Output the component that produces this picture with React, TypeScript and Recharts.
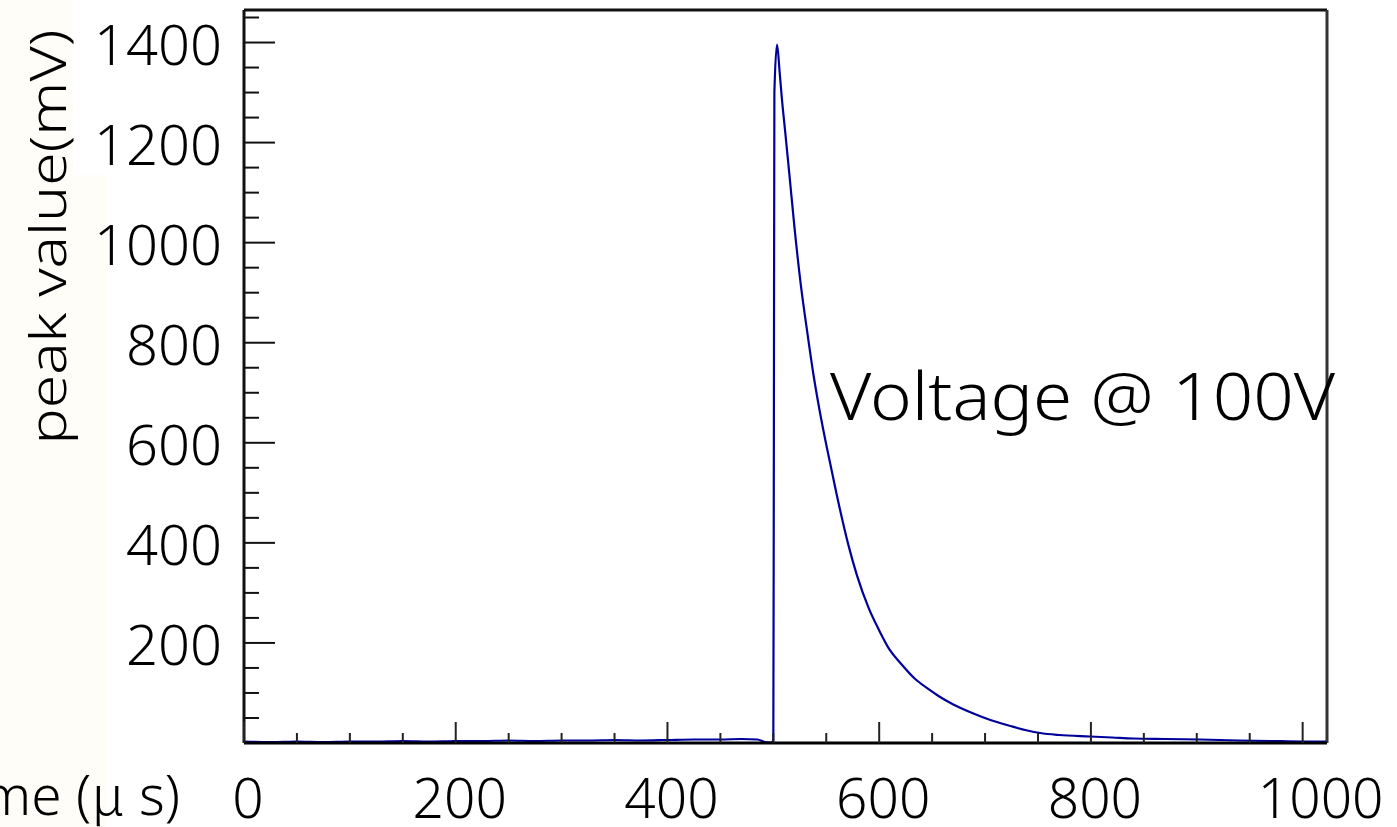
import { LineChart, Line, XAxis, YAxis, ReferenceLine } from 'recharts';

// pulse, time in microseconds, peak in mV
const timeUs = [
    0, 25, 50, 75, 100, 125, 150, 175, 200, 225, 250, 275, 300, 325, 350, 375, 400, 425, 450, 470,
    485, 492, 497, 500, 500.5, 501, 503.5, 506, 508, 511, 515, 520, 526, 532, 538, 545, 551, 560,
    571, 579, 590, 600, 610, 620, 634, 645, 656, 670, 689, 705, 724, 740, 752, 770, 799, 820, 840,
    870, 903, 940, 970, 1000, 1022,
];
const peakMv = [
    3, 2, 3, 2, 3, 3, 4, 3, 4, 4, 5, 4, 5, 5, 6, 5, 6, 7, 7, 8,
    7, 2, 1, 4, 600, 1300, 1396, 1340, 1290, 1226, 1140, 1030, 915, 822, 735, 650, 586, 495,
    395, 335, 270, 225, 186, 160, 128, 110, 94, 77, 59, 46, 34, 25, 20, 16, 13, 11, 9,
    8, 7, 5, 4, 3, 3,
];

const xTicks = [0, 50, 100, 150, 200, 250, 300, 350, 400, 450, 500, 550, 600, 650, 700, 750, 800, 850, 900, 950, 1000];
const yTicks = [50, 100, 150, 200, 250, 300, 350, 400, 450, 500, 550, 600, 650, 700, 750, 800, 850, 900, 950, 1000, 1050, 1100, 1150, 1200, 1250, 1300, 1350, 1400, 1450];

const X_MAX = 1023;
const Y_MAX = 1465;
const FONT = '"Noto Sans", "Noto Sans CJK JP", sans-serif';
const WEIGHT = 300;

const data = timeUs.map((t, i) => ({ t, mv: peakMv[i] }));

function XTick(props: any) {
    const { x, y, payload } = props;
    const v = payload.value as number;
    const major = v % 200 === 0;
    return (
        <g>
            <line x1={x} y1={y} x2={x} y2={y - (major ? 21 : 10)} stroke="#222" strokeWidth={2} />
            {major && (
                <text
                    x={x + (v === 1000 ? 18 : 4)}
                    y={y + 53}
                    textAnchor="middle"
                    dominantBaseline="central"
                    fontSize={55}
                    fontWeight={WEIGHT}
                    fontFamily={FONT}
                    fill="#000"
                >
                    {v}
                </text>
            )}
        </g>
    );
}

function YTick(props: any) {
    const { x, y, payload } = props;
    const v = payload.value as number;
    const major = v % 200 === 0;
    return (
        <g>
            <line x1={x} y1={y} x2={x + (major ? 31 : 15)} y2={y} stroke="#111" strokeWidth={2} />
            {major && (
                <text
                    x={x - 22}
                    y={y}
                    textAnchor="end"
                    dominantBaseline="central"
                    fontSize={56}
                    fontWeight={WEIGHT}
                    fontFamily={FONT}
                    fill="#000"
                >
                    {v}
                </text>
            )}
        </g>
    );
}

export default function App() {
    return (
        <div style={{ position: 'relative', width: 1397, height: 827, background: '#fff', overflow: 'hidden' }}>
            <style>{'body{margin:0}'}</style>
            <div style={{ position: 'absolute', left: 0, top: 0, width: 107, height: 827, background: '#fffdf7' }} />
            <div style={{ position: 'absolute', left: 73, top: 0, width: 34, height: 175, background: '#fff' }} />
            <div style={{ position: 'absolute', left: 0, top: 0 }}>
                <LineChart width={1397} height={827} data={data} margin={{ top: 10, right: 70, left: 94, bottom: 24 }}>
                    <XAxis
                        dataKey="t"
                        type="number"
                        domain={[0, X_MAX]}
                        ticks={xTicks}
                        interval={0}
                        allowDataOverflow
                        height={60}
                        tickSize={0}
                        tickMargin={0}
                        tickLine={false}
                        axisLine={{ stroke: '#000', strokeWidth: 3 }}
                        tick={<XTick />}
                    />
                    <YAxis
                        type="number"
                        domain={[0, Y_MAX]}
                        ticks={yTicks}
                        interval={0}
                        allowDataOverflow
                        width={150}
                        tickSize={0}
                        tickMargin={0}
                        tickLine={false}
                        axisLine={{ stroke: '#111', strokeWidth: 3 }}
                        tick={<YTick />}
                    />
                    <ReferenceLine y={Y_MAX} stroke="#111" strokeWidth={3} />
                    <ReferenceLine x={X_MAX} stroke="#333" strokeWidth={3} />
                    <Line
                        type="monotone"
                        dataKey="mv"
                        stroke="#00009c"
                        strokeWidth={2.2}
                        dot={false}
                        isAnimationActive={false}
                    />
                </LineChart>
            </div>
            <svg width={1397} height={827} style={{ position: 'absolute', left: 0, top: 0, pointerEvents: 'none' }}>
                <text
                    transform="translate(66,237) rotate(-90)"
                    textAnchor="middle"
                    fontSize={50}
                    fontWeight={WEIGHT}
                    fontFamily={FONT}
                    textLength={415}
                    lengthAdjust="spacingAndGlyphs"
                    fill="#000"
                >
                    peak value(mV)
                </text>
                <text x={180} y={815} textAnchor="end" fontSize={55} fontWeight={WEIGHT} fontFamily={FONT} fill="#000">
                    time (<tspan fontFamily='"Noto Sans CJK JP", sans-serif'>μ</tspan> s)
                </text>
                <text
                    x={830}
                    y={420}
                    fontSize={66}
                    fontWeight={WEIGHT}
                    fontFamily={FONT}
                    textLength={505}
                    lengthAdjust="spacingAndGlyphs"
                    fill="#000"
                >
                    Voltage @ 100V
                </text>
            </svg>
        </div>
    );
}
